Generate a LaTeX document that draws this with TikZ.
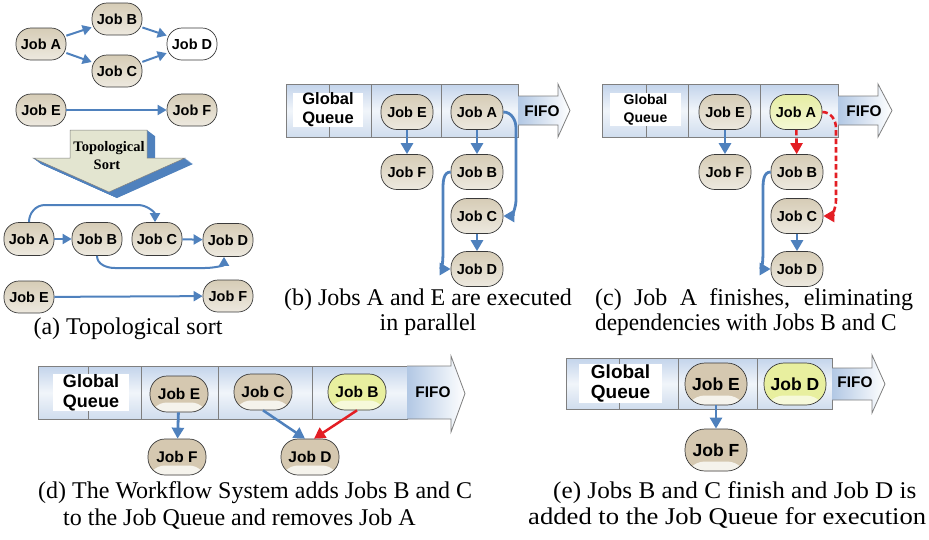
\documentclass[tikz,border=0pt]{standalone}
\usepackage{fontspec}
\setmainfont{Liberation Serif}
\setsansfont{Liberation Sans}
\usetikzlibrary{arrows.meta}

\definecolor{flowblue}{HTML}{4F81BD}
\definecolor{flowred}{HTML}{E31E24}
\definecolor{jobtop}{HTML}{D6CCB6}
\definecolor{jobbot}{HTML}{EDE9DF}
\definecolor{jobtan}{HTML}{D5C8B0}
\definecolor{jobpale}{HTML}{F5F3EC}
\definecolor{donetop}{HTML}{E6EDA3}
\definecolor{donebot}{HTML}{F5F8D5}
\definecolor{doneyel}{HTML}{E8EF9F}
\definecolor{donepale}{HTML}{F6F9DA}
\definecolor{qtop}{HTML}{C3D4EB}
\definecolor{qmid}{HTML}{F1F5FA}
\definecolor{qbot}{HTML}{D0DDEE}
\definecolor{sortface}{HTML}{E3E5D0}
\definecolor{edgegray}{HTML}{7F7F7F}
\definecolor{nodeedge}{HTML}{3A3A3A}

\tikzset{
  job/.style={draw=nodeedge, line width=0.7pt, inner sep=0pt,
    top color=jobtop, bottom color=jobbot},
  jobsmall/.style={job, minimum width=50pt, minimum height=32pt, rounded corners=15pt,
    font=\sffamily\bfseries\fontsize{14.5}{16}\selectfont},
  jobmid/.style={job, minimum width=52pt, minimum height=35pt, rounded corners=16pt,
    font=\sffamily\bfseries\fontsize{14.5}{16}\selectfont},
  donemid/.style={jobmid, top color=donetop, bottom color=donebot},
  striped/.style={draw=nodeedge, line width=0.7pt, inner sep=0pt, fill=#1},
  stripe/.style={path picture={\fill[#1] ([yshift=9.5pt]path picture bounding box.south west)
    rectangle (path picture bounding box.south east);}},
  jobbig/.style={striped=jobtan, stripe=jobpale, minimum width=58pt, minimum height=36pt,
    rounded corners=17pt, font=\sffamily\bfseries\fontsize{15.5}{17}\selectfont},
  jobhuge/.style={striped=jobtan, stripe=jobpale, minimum width=62pt, minimum height=42pt,
    rounded corners=20pt, font=\sffamily\bfseries\fontsize{17.5}{19}\selectfont},
  flow/.style={draw=flowblue, line width=2pt, -{Triangle[length=9pt,width=10pt]}},
  flowthick/.style={draw=flowblue, line width=2.8pt, -{Triangle[length=11pt,width=12pt]}},
  reddash/.style={draw=flowred, line width=2.6pt, dash pattern=on 5.5pt off 3pt,
    -{Triangle[length=11pt,width=12pt]}},
  redflow/.style={draw=flowred, line width=2.6pt, -{Triangle[length=11pt,width=12pt]}},
  queue/.style={top color=qtop, bottom color=qbot, middle color=qmid},
  qline/.style={draw=edgegray, line width=0.8pt},
  fifoarrow/.style={left color=qtop!85!flowblue, right color=white, draw=edgegray, line width=0.8pt},
  fifotext/.style={inner sep=0pt, font=\sffamily\bfseries\fontsize{15.4}{17}\selectfont},
  gq/.style={fill=white, inner sep=0pt, align=center},
  caption/.style={inner sep=0pt, font=\fontsize{24}{26}\selectfont},
}

\begin{document}
\begin{tikzpicture}[x=1pt, y=-1pt]
\useasboundingbox (0,0) rectangle (929,539);

% ---------- (a) dependency graph ----------
\node[jobsmall] (aA) at (41,44) {Job A};
\node[jobsmall] (aB) at (117,19) {Job B};
\node[jobsmall] (aC) at (117,71) {Job C};
\node[jobsmall, top color=white, bottom color=white] (aD) at (192,44) {Job D};
\node[jobsmall] (aE) at (41,110) {Job E};
\node[jobsmall] (aF) at (192,110) {Job F};
\draw[flow] (aA) -- (aB);
\draw[flow] (aA) -- (aC);
\draw[flow] (aB) -- (aD);
\draw[flow] (aC) -- (aD);
\draw[flow] (aE) -- (aF);

% big 3-D arrow
\def\sortarrow{(70,130) -- (147,130) -- (147,158) -- (185,158) -- (109,192) -- (33,158) -- (70,158) -- cycle}
\foreach \t in {0,0.05,...,1.01}
  \fill[flowblue, shift={(8*\t,6*\t)}] \sortarrow;
\filldraw[fill=sortface, draw=edgegray, line width=0.5pt] \sortarrow;
\node[inner sep=0pt, font=\bfseries\fontsize{14.5}{16}\selectfont] (topo) at (109,148) {Topological};
\node[inner sep=0pt, font=\bfseries\fontsize{14.5}{16}\selectfont] (sortlbl) at (107,165) {Sort};

% sorted order
\node[jobsmall, minimum height=33pt] (a2A) at (29,239) {Job A};
\node[jobsmall, minimum height=33pt] (a2B) at (97,239) {Job B};
\node[jobsmall, minimum height=33pt] (a2C) at (157,239) {Job C};
\node[jobsmall, minimum height=33pt] (a2D) at (228,240) {Job D};
\node[jobsmall] (a2E) at (29,297) {Job E};
\node[jobsmall] (a2F) at (228,296) {Job F};
\draw[flow] (a2A) -- (a2B);
\draw[flow] (a2C) -- (a2D);
\draw[flow] (a2A.north) to[out=90,in=180] (45,205) -- (138,205) to[out=0,in=90] ([xshift=-2pt]a2C.north);
\draw[flow] (a2B.south) to[out=-90,in=180] (115,268) -- (205,268) to[out=0,in=-90] ([xshift=-4pt]a2D.south);
\draw[flow] (a2E) -- (a2F);
\node[caption, anchor=base] (capa) at (128,334) {(a) Topological sort};

% ---------- (b) ----------
\shade[queue] (286,84) rectangle (518,137);
\draw[qline] (286,84) rectangle (518,137);
\foreach \xx in {329,371,441} \draw[qline] (\xx,84) -- (\xx,137);
\shadedraw[fifoarrow] (518,96) -- (558,96) -- (558,84) -- (570,110.5) -- (558,137) -- (558,125) -- (518,125);
\node[fifotext] (bfifo) at (542,111) {FIFO};
\node[gq, minimum width=70pt, minimum height=34pt, font=\sffamily\bfseries\fontsize{16.5}{19}\selectfont]
  (bgq) at (328,110) {Global\\Queue};
\node[jobmid] (bE) at (407,112) {Job E};
\node[jobmid] (bA) at (477,112) {Job A};
\node[jobmid] (bF) at (407,172) {Job F};
\node[jobmid] (bB) at (477,172) {Job B};
\node[jobmid] (bC) at (477,216) {Job C};
\node[jobmid] (bD) at (477,269) {Job D};
\draw[flowthick] (bE) -- (bF);
\draw[flowthick] (bA) -- (bB);
\draw[flowthick] (bC) -- (bD);
\draw[flowthick] (bA.east) to[out=0,in=90] (516,128) -- (516,200) to[out=-90,in=0] (bC.east);
\draw[flowthick] (bB.west) to[out=180,in=90] (443,190) -- (443,250) to[out=-90,in=180] (bD.west);
\node[caption, anchor=base] (capb1) at (428,305) {(b) Jobs A and E are executed};
\node[caption, anchor=base] (capb2) at (428,330) {in parallel};

% ---------- (c) ----------
\shade[queue] (602,84) rectangle (838,137);
\draw[qline] (602,84) rectangle (838,137);
\foreach \xx in {646,688,760} \draw[qline] (\xx,84) -- (\xx,137);
\shadedraw[fifoarrow] (838,96) -- (878,96) -- (878,84) -- (892,110.5) -- (878,137) -- (878,125) -- (838,125);
\node[fifotext] (cfifo) at (864,111) {FIFO};
\node[gq, minimum width=71pt, minimum height=33pt, font=\sffamily\bfseries\fontsize{14}{18}\selectfont]
  (cgq) at (645.5,109.5) {Global\\Queue};
\node[jobmid] (cE) at (725,112) {Job E};
\node[donemid] (cA) at (796,112) {Job A};
\node[jobmid] (cF) at (725,172) {Job F};
\node[jobmid] (cB) at (797,172) {Job B};
\node[jobmid] (cC) at (797,216) {Job C};
\node[jobmid] (cD) at (797,269) {Job D};
\draw[flowthick] (cE) -- (cF);
\draw[reddash] (cA) -- (cB);
\draw[flowthick] (cC) -- (cD);
\draw[reddash] (cA.east) to[out=0,in=90] (836,128) -- (836,200) to[out=-90,in=0] (cC.east);
\draw[flowthick] (cB.west) to[out=180,in=90] (763,190) -- (763,250) to[out=-90,in=180] (cD.west);
\node[caption, anchor=base west] (capc1) at (595,305) {\makebox[318pt][s]{(c) Job A finishes, eliminating}};
\node[caption, anchor=base west] (capc2) at (595,330) {\scalebox{0.968}[1]{dependencies with Jobs B and C}};

% ---------- (d) ----------
\shade[queue] (38,366) rectangle (407,419);
\draw[qline] (38,366) rectangle (407,419);
\foreach \xx in {88,141,218,312} \draw[qline] (\xx,366) -- (\xx,419);
\shadedraw[fifoarrow] (407,366) -- (451,366) -- (451,356) -- (465,393.5) -- (451,432) -- (451,419) -- (407,419);
\node[fifotext] (dfifo) at (433,392) {FIFO};
\node[gq, minimum width=76pt, minimum height=35pt, font=\sffamily\bfseries\fontsize{18}{20}\selectfont]
  (dgq) at (91,392.5) {Global\\Queue};
\node[jobbig] (dE) at (179,394) {Job E};
\node[jobbig] (dC) at (263,392) {Job C};
\node[jobbig, striped=doneyel, stripe=donepale] (dB) at (357,392) {Job B};
\node[jobbig] (dF) at (177,457) {Job F};
\node[jobbig] (dD) at (310,457) {Job D};
\draw[flowthick] (dE) -- (dF);
\draw[flowthick, line width=2.5pt] (dC.south) -- ([xshift=-5pt]dD.north);
\draw[redflow, line width=2.5pt] (dB.south) -- ([xshift=4pt]dD.north);
\node[caption, anchor=base west] (capd1) at (38,498) {(d) The Workflow System adds Jobs B and C};
\node[caption, anchor=base west] (capd2) at (63,525) {to the Job Queue and removes Job A};

% ---------- (e) ----------
\shade[queue] (566,358) rectangle (832,409);
\draw[qline] (566,358) rectangle (832,409);
\foreach \xx in {619,678,757} \draw[qline] (\xx,358) -- (\xx,409);
\shadedraw[fifoarrow] (832,368) -- (872,368) -- (872,355) -- (885,384) -- (872,413) -- (872,400) -- (832,400);
\node[fifotext] (efifo) at (855,382) {FIFO};
\node[gq, minimum width=83pt, minimum height=39pt, font=\sffamily\bfseries\fontsize{19}{20}\selectfont]
  (egq) at (620.5,383.5) {Global\\Queue};
\node[jobhuge] (eE) at (716,384) {Job E};
\node[jobhuge, striped=doneyel, stripe=donepale] (eD) at (795,384) {Job D};
\node[jobhuge] (eF) at (716,450) {Job F};
\draw[flowthick] (eE) -- (eF);
\node[caption, anchor=base west] (cape1) at (553,498) {\scalebox{1.05}[1]{(e) Jobs B and C finish and Job D is}};
\node[caption, anchor=base west] (cape2) at (528,524) {\scalebox{1.11}[1]{added to the Job Queue for execution}};
\end{tikzpicture}
\end{document}
